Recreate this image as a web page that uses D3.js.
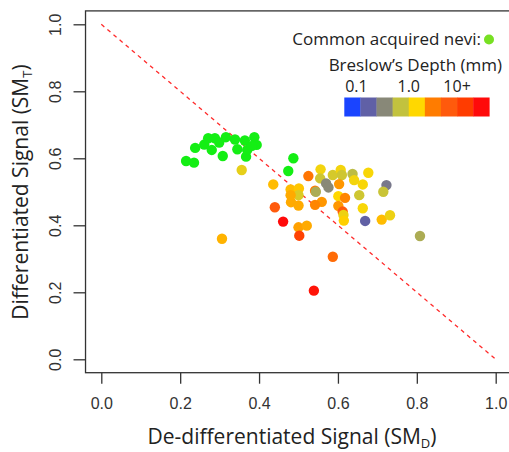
<!DOCTYPE html>
<html>
<head>
<meta charset="utf-8">
<script src="https://cdn.jsdelivr.net/npm/d3@7"></script>
<style>
    body { margin: 0; background: #fff; }
    svg text { fill: #222; }
    .tick text { font-family: "Liberation Sans", Arial, sans-serif; font-size: 16px; fill: #333; }
    .tick line { stroke: #333; }
    .title { font-family: "Open Sans", sans-serif; font-size: 21px; }
    .legend { font-family: "Open Sans", sans-serif; font-size: 17px; }
    .legend .lab { font-size: 16px; }
</style>
</head>
<body>
<svg id="chart" width="509" height="452"></svg>
<script>

// common acquired nevi: [SM_D, SM_T]
var neviX = [0.215, 0.235, 0.238, 0.261, 0.271, 0.288, 0.280, 0.299, 0.316, 0.308,
             0.339, 0.345, 0.364, 0.367, 0.388, 0.394, 0.370, 0.382, 0.487, 0.474];
var neviY = [0.592, 0.587, 0.631, 0.641, 0.660, 0.660, 0.625, 0.647, 0.663, 0.607,
             0.656, 0.627, 0.653, 0.605, 0.663, 0.640, 0.625, 0.637, 0.600, 0.562];

// melanomas: [SM_D, SM_T, Breslow depth in mm]
var melX = [0.356, 0.525, 0.436, 0.480, 0.501, 0.500, 0.480, 0.481, 0.500, 0.440,
            0.461, 0.500, 0.521, 0.502, 0.306, 0.542, 0.544, 0.559, 0.542, 0.556,
            0.555, 0.570, 0.576, 0.587, 0.607, 0.610, 0.603, 0.601, 0.618, 0.601,
            0.612, 0.614, 0.615, 0.637, 0.641, 0.677, 0.663, 0.654, 0.723, 0.715,
            0.663, 0.669, 0.711, 0.732, 0.808, 0.587, 0.539];
var melY = [0.565, 0.547, 0.522, 0.507, 0.510, 0.490, 0.490, 0.469, 0.459, 0.454,
            0.411, 0.394, 0.399, 0.369, 0.360, 0.503, 0.500, 0.470, 0.461, 0.567,
            0.540, 0.525, 0.513, 0.550, 0.565, 0.550, 0.523, 0.487, 0.482, 0.458,
            0.441, 0.431, 0.414, 0.553, 0.535, 0.557, 0.522, 0.490, 0.520, 0.500,
            0.451, 0.413, 0.417, 0.430, 0.368, 0.306, 0.205];
var melDepth = [0.79, 2.0, 1.19, 1.19, 1.12, 0.71, 1.33, 1.33, 1.33, 3.16,
                10, 1.41, 1.33, 5.0, 1.26, 1.78, 0.45, 1.5, 1.68, 0.89,
                0.63, 0.32, 0.32, 0.67, 0.89, 0.63, 1.5, 1.0, 1.68, 1.5,
                3.16, 0.84, 1.06, 0.53, 0.89, 0.94, 0.94, 0.63, 0.25, 0.6,
                0.94, 0.18, 1.19, 0.84, 0.45, 2.37, 8.9];

var ticks = [0, 0.2, 0.4, 0.6, 0.8, 1.0];
var depthColors = ["#1a44ff", "#6060a6", "#888878", "#c2c23e", "#ffd800",
                   "#ff7c00", "#ff5a0c", "#ff3c00", "#ff0a0a"];
var depthLabels = ["0.1", "1.0", "10+"];
var depthLabelCells = [0.75, 4.0, 7.0];


var svg = d3.select("#chart");

var x = d3.scaleLinear().domain([0, 1]).range([101.3, 495.7]);
var y = d3.scaleLinear().domain([0, 1]).range([359.3, 24.3]);

// box (R style, 4% padding; runs off the right edge)
svg.append("rect")
    .attr("x", x(-0.04))
    .attr("y", y(1.04))
    .attr("width", x(1.04) - x(-0.04))
    .attr("height", y(-0.04) - y(1.04))
    .style("fill", "none")
    .style("stroke", "#333")
    .style("stroke-width", 1.3);

var xAxis = svg.append("g")
    .attr("transform", "translate(0," + y(-0.04) + ")")
    .call(d3.axisBottom(x).tickValues(ticks).tickFormat(d3.format(".1f"))
        .tickSize(11).tickPadding(14).tickSizeOuter(0));
xAxis.select(".domain").remove();

var yAxis = svg.append("g")
    .attr("transform", "translate(" + x(-0.04) + ",0)")
    .call(d3.axisLeft(y).tickValues(ticks).tickFormat(d3.format(".1f"))
        .tickSize(12).tickSizeOuter(0));
yAxis.select(".domain").remove();
yAxis.selectAll(".tick text")
    .attr("x", null).attr("dy", null)
    .attr("transform", "translate(-30,0) rotate(-90)")
    .style("text-anchor", "middle")
    .style("dominant-baseline", "central");
svg.selectAll(".tick line").style("stroke-width", 1.3);

// identity diagonal
svg.append("line")
    .attr("x1", x(0)).attr("y1", y(1))
    .attr("x2", x(1)).attr("y2", y(0))
    .style("stroke", "#ff2a2a")
    .style("stroke-width", 1.3)
    .style("stroke-dasharray", "4,4");

var logIdx = d3.scaleLinear().domain([-1, 1]).range([0, 8]).clamp(true);
var color = d3.scaleLinear()
    .domain(depthColors.map((_, i) => i))
    .range(depthColors);

var nevi = neviX.map((d, i) => ({ x: d, y: neviY[i] }));
var mel = melX.map((d, i) => ({ x: d, y: melY[i], depth: melDepth[i] }));

svg.append("g").selectAll("circle")
    .data(nevi)
    .enter().append("circle")
        .attr("cx", d => x(d.x))
        .attr("cy", d => y(d.y))
        .attr("r", 5.2)
        .style("fill", "#14ee14");

svg.append("g").selectAll("circle")
    .data(mel)
    .enter().append("circle")
        .attr("cx", d => x(d.x))
        .attr("cy", d => y(d.y))
        .attr("r", 5.2)
        .style("fill", d => color(logIdx(Math.log10(d.depth))));

// axis titles
svg.append("text")
    .attr("class", "title")
    .attr("x", 292).attr("y", 444)
    .style("text-anchor", "middle")
    .html("De-differentiated Signal (SM<tspan dy='4' font-size='13'>D</tspan><tspan dy='-4'>)</tspan>");

svg.append("text")
    .attr("class", "title")
    .attr("transform", "translate(28,192) rotate(-90)")
    .style("text-anchor", "middle")
    .html("Differentiated Signal (SM<tspan dy='4' font-size='13'>T</tspan><tspan dy='-4'>)</tspan>");

// legend
var legend = svg.append("g").attr("class", "legend");

legend.append("text")
    .attr("x", 481).attr("y", 45)
    .style("text-anchor", "end")
    .text("Common acquired nevi:");
legend.append("circle")
    .attr("cx", 489).attr("cy", 39.5).attr("r", 5)
    .style("fill", "#77e022");

legend.append("text")
    .attr("x", 502).attr("y", 71)
    .style("text-anchor", "end")
    .text("Breslow\u2019s Depth (mm)");

var cell = d3.scaleLinear().domain([0, depthColors.length]).range([344.3, 489.3]);

legend.selectAll("rect")
    .data(depthColors)
    .enter().append("rect")
        .attr("x", (_, i) => cell(i))
        .attr("y", 97.5)
        .attr("width", cell(1) - cell(0) + 0.3)
        .attr("height", 19)
        .style("fill", d => d);

legend.selectAll("text.lab")
    .data(depthLabels)
    .enter().append("text")
        .attr("class", "lab")
        .attr("x", (_, i) => cell(depthLabelCells[i]))
        .attr("y", 92)
        .style("text-anchor", "middle")
        .text(d => d);

</script>
</body>
</html>
